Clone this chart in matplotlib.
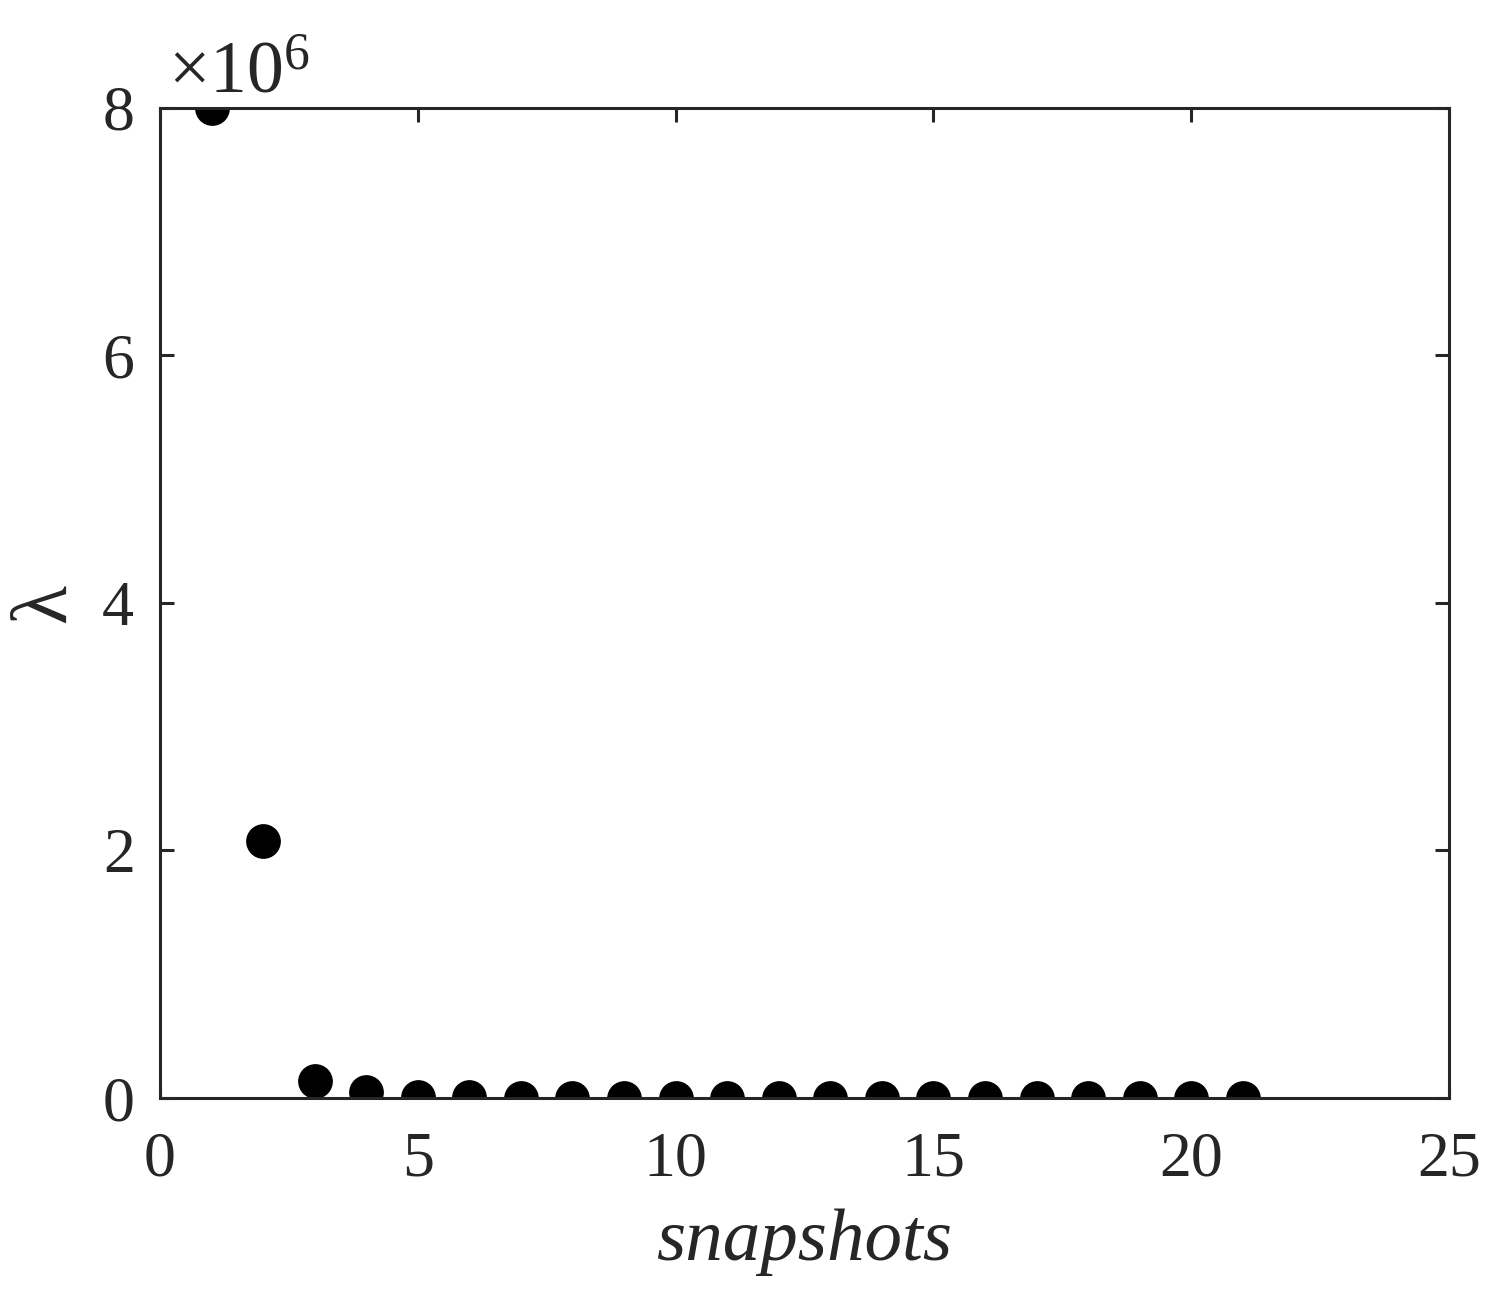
import numpy as np
import matplotlib
matplotlib.use('Agg')
import matplotlib.pyplot as plt
from matplotlib.ticker import ScalarFormatter

# eigenvalues per snapshot
snapshots = np.arange(1, 22)
eig_vals = [8.0e6, 2.08e6, 0.14e6, 0.05e6, 0.01e6, 0.005e6, 0.004e6, 0.003e6,
            0.002e6, 0.002e6, 0.001e6, 0.001e6, 0.001e6, 0.001e6, 0.001e6,
            0.0005e6, 0.0005e6, 0.0005e6, 0.0003e6, 0.0002e6, 0.0001e6]

plt.rcParams['font.family'] = ['Liberation Serif', 'DejaVu Serif']
plt.rcParams['mathtext.fontset'] = 'custom'
plt.rcParams['mathtext.rm'] = 'Liberation Serif'
plt.rcParams['mathtext.it'] = 'Liberation Serif:italic'

fig = plt.figure(figsize=(14.99, 13.15), dpi=100)
ax = fig.add_axes([0.1067, 0.165, 0.86, 0.753])

ax.plot(snapshots, eig_vals, 'o', color='black', markersize=24)

ax.set_xlim(0, 25)
ax.set_ylim(0, 8e6)
ax.set_xticks([0, 5, 10, 15, 20, 25])
ax.set_yticks([0, 2e6, 4e6, 6e6, 8e6])

fmt = ScalarFormatter(useMathText=True)
fmt.set_powerlimits((0, 0))
ax.yaxis.set_major_formatter(fmt)

col = '#262626'
for s in ax.spines.values():
    s.set_linewidth(2.2)
    s.set_color(col)
ax.tick_params(direction='in', length=10, width=2.2, colors=col,
               labelsize=46, top=True, right=True)
ax.tick_params(axis='x', pad=24)
ax.tick_params(axis='y', pad=19)

# exponent label drawn by hand so it can sit where the reference has it
ax.yaxis.get_offset_text().set_visible(False)
ax.text(0.006, 1.015, r'$\times10^{6}$', transform=ax.transAxes,
        fontsize=53, color=col, ha='left', va='baseline')

ax.set_xlabel('snapshots', fontsize=54, style='italic', color=col, labelpad=14)
ax.set_ylabel('λ', fontsize=58, color=col)
ax.yaxis.set_label_coords(-0.06, 0.5)

fig.savefig('out.png', dpi=100)
